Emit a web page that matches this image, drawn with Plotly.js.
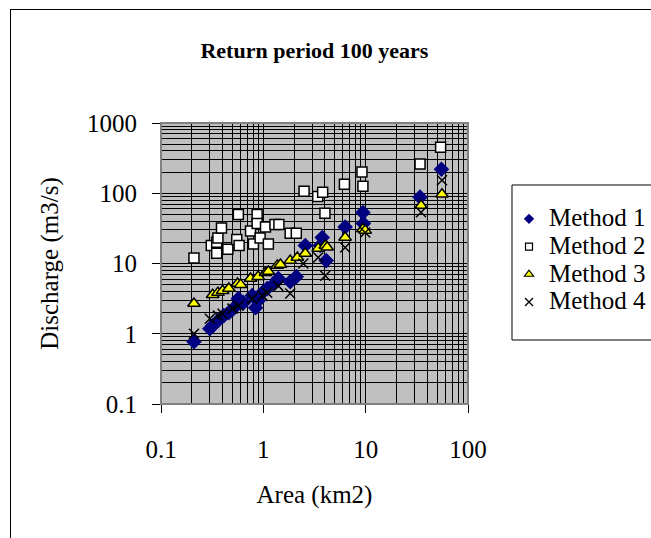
<!DOCTYPE html>
<html>
<head>
<meta charset="utf-8">
<script src="https://cdn.plot.ly/plotly-3.0.1.min.js"></script>
<style>
  html, body { margin: 0; padding: 0; background: #fff; }
  #wrap { position: relative; width: 651px; height: 538px; overflow: hidden; }
  #chart { width: 651px; height: 538px; }
  #frame { position: absolute; left: 10px; top: 9px; width: 700px; height: 600px;
           border-left: 1px solid #000; border-top: 1px solid #000; pointer-events: none; }
</style>
</head>
<body>
<div id="wrap">
  <div id="chart"></div>
  <div id="frame"></div>
</div>
<script>
// ---- data ----
var seriesNames = ["Method 1", "Method 2", "Method 3", "Method 4"];

var m1Area = [0.21, 0.30, 0.32, 0.36, 0.41, 0.46, 0.51, 0.57, 0.64, 0.78, 0.84, 0.89, 0.98, 1.09, 1.31, 1.40, 1.83, 2.1, 2.57, 3.6, 3.76, 4.12, 6.3, 9.4, 9.5, 34, 55];
var m1Q    = [0.77, 1.18, 1.3, 1.53, 1.81, 2.0, 2.28, 3.16, 2.77, 3.49, 2.35, 2.96, 3.85, 4.39, 5.35, 6.1, 5.5, 6.5, 18, 18, 23.5, 11, 33, 53, 37, 88, 220];

var m2Area = [0.21, 0.31, 0.35, 0.35, 0.36, 0.39, 0.45, 0.55, 0.57, 0.58, 0.75, 0.80, 0.87, 0.87, 0.93, 1.05, 1.12, 1.3, 1.42, 1.83, 2.1, 2.5, 3.4, 3.8, 4.0, 6.2, 9.2, 9.4, 34, 54];
var m2Q    = [12, 18, 20, 14, 23, 32, 16, 22, 50, 18, 29, 19, 50, 37, 23, 33, 19, 36, 36, 27, 27, 107, 90, 103, 52, 134, 200, 126, 260, 450];

var m3Area = [0.21, 0.32, 0.36, 0.40, 0.46, 0.56, 0.60, 0.75, 0.89, 1.05, 1.12, 1.37, 1.47, 1.83, 2.15, 2.57, 3.44, 4.03, 4.2, 6.3, 9.4, 9.9, 34.8, 55.7];
var m3Q    = [2.7, 3.6, 3.85, 4.1, 4.4, 5.2, 5.0, 6.1, 6.5, 7.4, 7.7, 9.4, 9.7, 11, 12.2, 13.9, 16.4, 18, 17, 23.5, 31, 29.6, 67, 97];

var m4Area = [0.21, 0.30, 0.36, 0.40, 0.50, 0.57, 0.78, 0.98, 1.09, 1.4, 1.83, 2.46, 3.44, 4.03, 6.3, 9.9, 34.8, 55.7];
var m4Q    = [1.0, 1.64, 1.81, 1.93, 2.28, 2.51, 3.16, 3.49, 3.85, 4.8, 3.73, 10, 12.2, 6.7, 16.9, 27.7, 53.5, 153];

var xTickVals = [0.1, 1, 10, 100];
var xTickText = ["0.1", "1", "10", "100"];
var yTickVals = [0.1, 1, 10, 100, 1000];
var yTickText = ["0.1", "1", "10", "100", "1000"];

var serif = "Liberation Serif";

var markerStyles = [
  { symbol: "diamond", size: 12, color: "#000080", line: { width: 0 } },
  { symbol: "square", size: 10, color: "#ffffff", line: { width: 1.5, color: "#000000" } },
  { symbol: "triangle-up", size: 11, color: "#ffff00", line: { width: 1.5, color: "#000000" } },
  { symbol: "x-thin", size: 10, color: "#000000", line: { width: 1.5, color: "#000000" } }
];
var legendMarkers = [
  { symbol: "diamond", size: 8, color: "#000080", line: { width: 0 } },
  { symbol: "square", size: 7, color: "#ffffff", line: { width: 1.2, color: "#000000" } },
  { symbol: "triangle-up", size: 8, color: "#ffff00", line: { width: 1.2, color: "#000000" } },
  { symbol: "x-thin", size: 8, color: "#000000", line: { width: 1.3, color: "#000000" } }
];

var xs = [m1Area, m2Area, m3Area, m4Area];
var ys = [m1Q, m2Q, m3Q, m4Q];
var traces = [];
for (var i = 0; i < 4; i++) {
  traces.push({ x: xs[i], y: ys[i], name: seriesNames[i], type: "scatter", mode: "markers",
                marker: markerStyles[i], showlegend: false, legendgroup: "g" + i });
}
for (var j = 0; j < 4; j++) {
  traces.push({ x: [null], y: [null],
                name: '<span style="font-family:\'Liberation Serif\';font-size:25px">' + seriesNames[j] + '</span>',
                type: "scatter", mode: "markers", marker: legendMarkers[j], showlegend: true,
                legendgroup: "g" + j });
}

var axisCommon = {
  type: "log",
  showgrid: true, gridcolor: "#000000", gridwidth: 1,
  minor: { showgrid: true, gridcolor: "#000000", gridwidth: 1, dtick: "D1" },
  ticks: "outside", ticklen: 8, tickcolor: "#000000", tickwidth: 1,
  showline: true, linecolor: "#000000", linewidth: 1,
  zeroline: false,
  tickfont: { family: serif, size: 25, color: "#000000" },
  tickmode: "array"
};

var layout = {
  width: 651, height: 538,
  font: { family: serif, color: "#000000" },
  paper_bgcolor: "#ffffff",
  plot_bgcolor: "#c0c0c0",
  margin: { l: 161, r: 183, t: 123, b: 134, autoexpand: false },
  showlegend: true,
  title: { text: "<b>Return period 100 years</b>", font: { family: serif, size: 22, color: "#000" },
           x: 0.483, xanchor: "center", y: 0.907, yanchor: "middle" },
  xaxis: Object.assign({}, axisCommon, {
    range: [-1, 2], tickvals: xTickVals, ticktext: xTickText, ticklabelstandoff: 15,
    title: { text: "Area (km2)", font: { family: serif, size: 25, color: "#000" }, standoff: 23 }
  }),
  yaxis: Object.assign({}, axisCommon, {
    range: [-1, 3], tickvals: yTickVals, ticktext: yTickText, ticklabelstandoff: 10,
    title: { text: "Discharge (m3/s)", font: { family: serif, size: 25, color: "#000" }, standoff: 21 }
  }),
  legend: {
    x: 1.1336, xanchor: "left", y: 0.726, yanchor: "top",
    bgcolor: "rgba(0,0,0,0)", borderwidth: 0,
    font: { family: serif, size: 19, color: "#000" },
    tracegroupgap: 0,
    itemsizing: "trace"
  },
  shapes: [
    { type: "rect", xref: "paper", yref: "paper", x0: 0, x1: 1, y0: 0, y1: 1,
      line: { color: "#808080", width: 2 }, layer: "above" },
    { type: "rect", xref: "paper", yref: "paper", x0: 1.1433, x1: 1.75, y0: 0.2278, y1: 0.7794,
      fillcolor: "#ffffff", line: { color: "#000000", width: 1 }, layer: "below" }
  ]
};

Plotly.newPlot("chart", traces, layout, { displayModeBar: false, staticPlot: true });
</script>
</body>
</html>
